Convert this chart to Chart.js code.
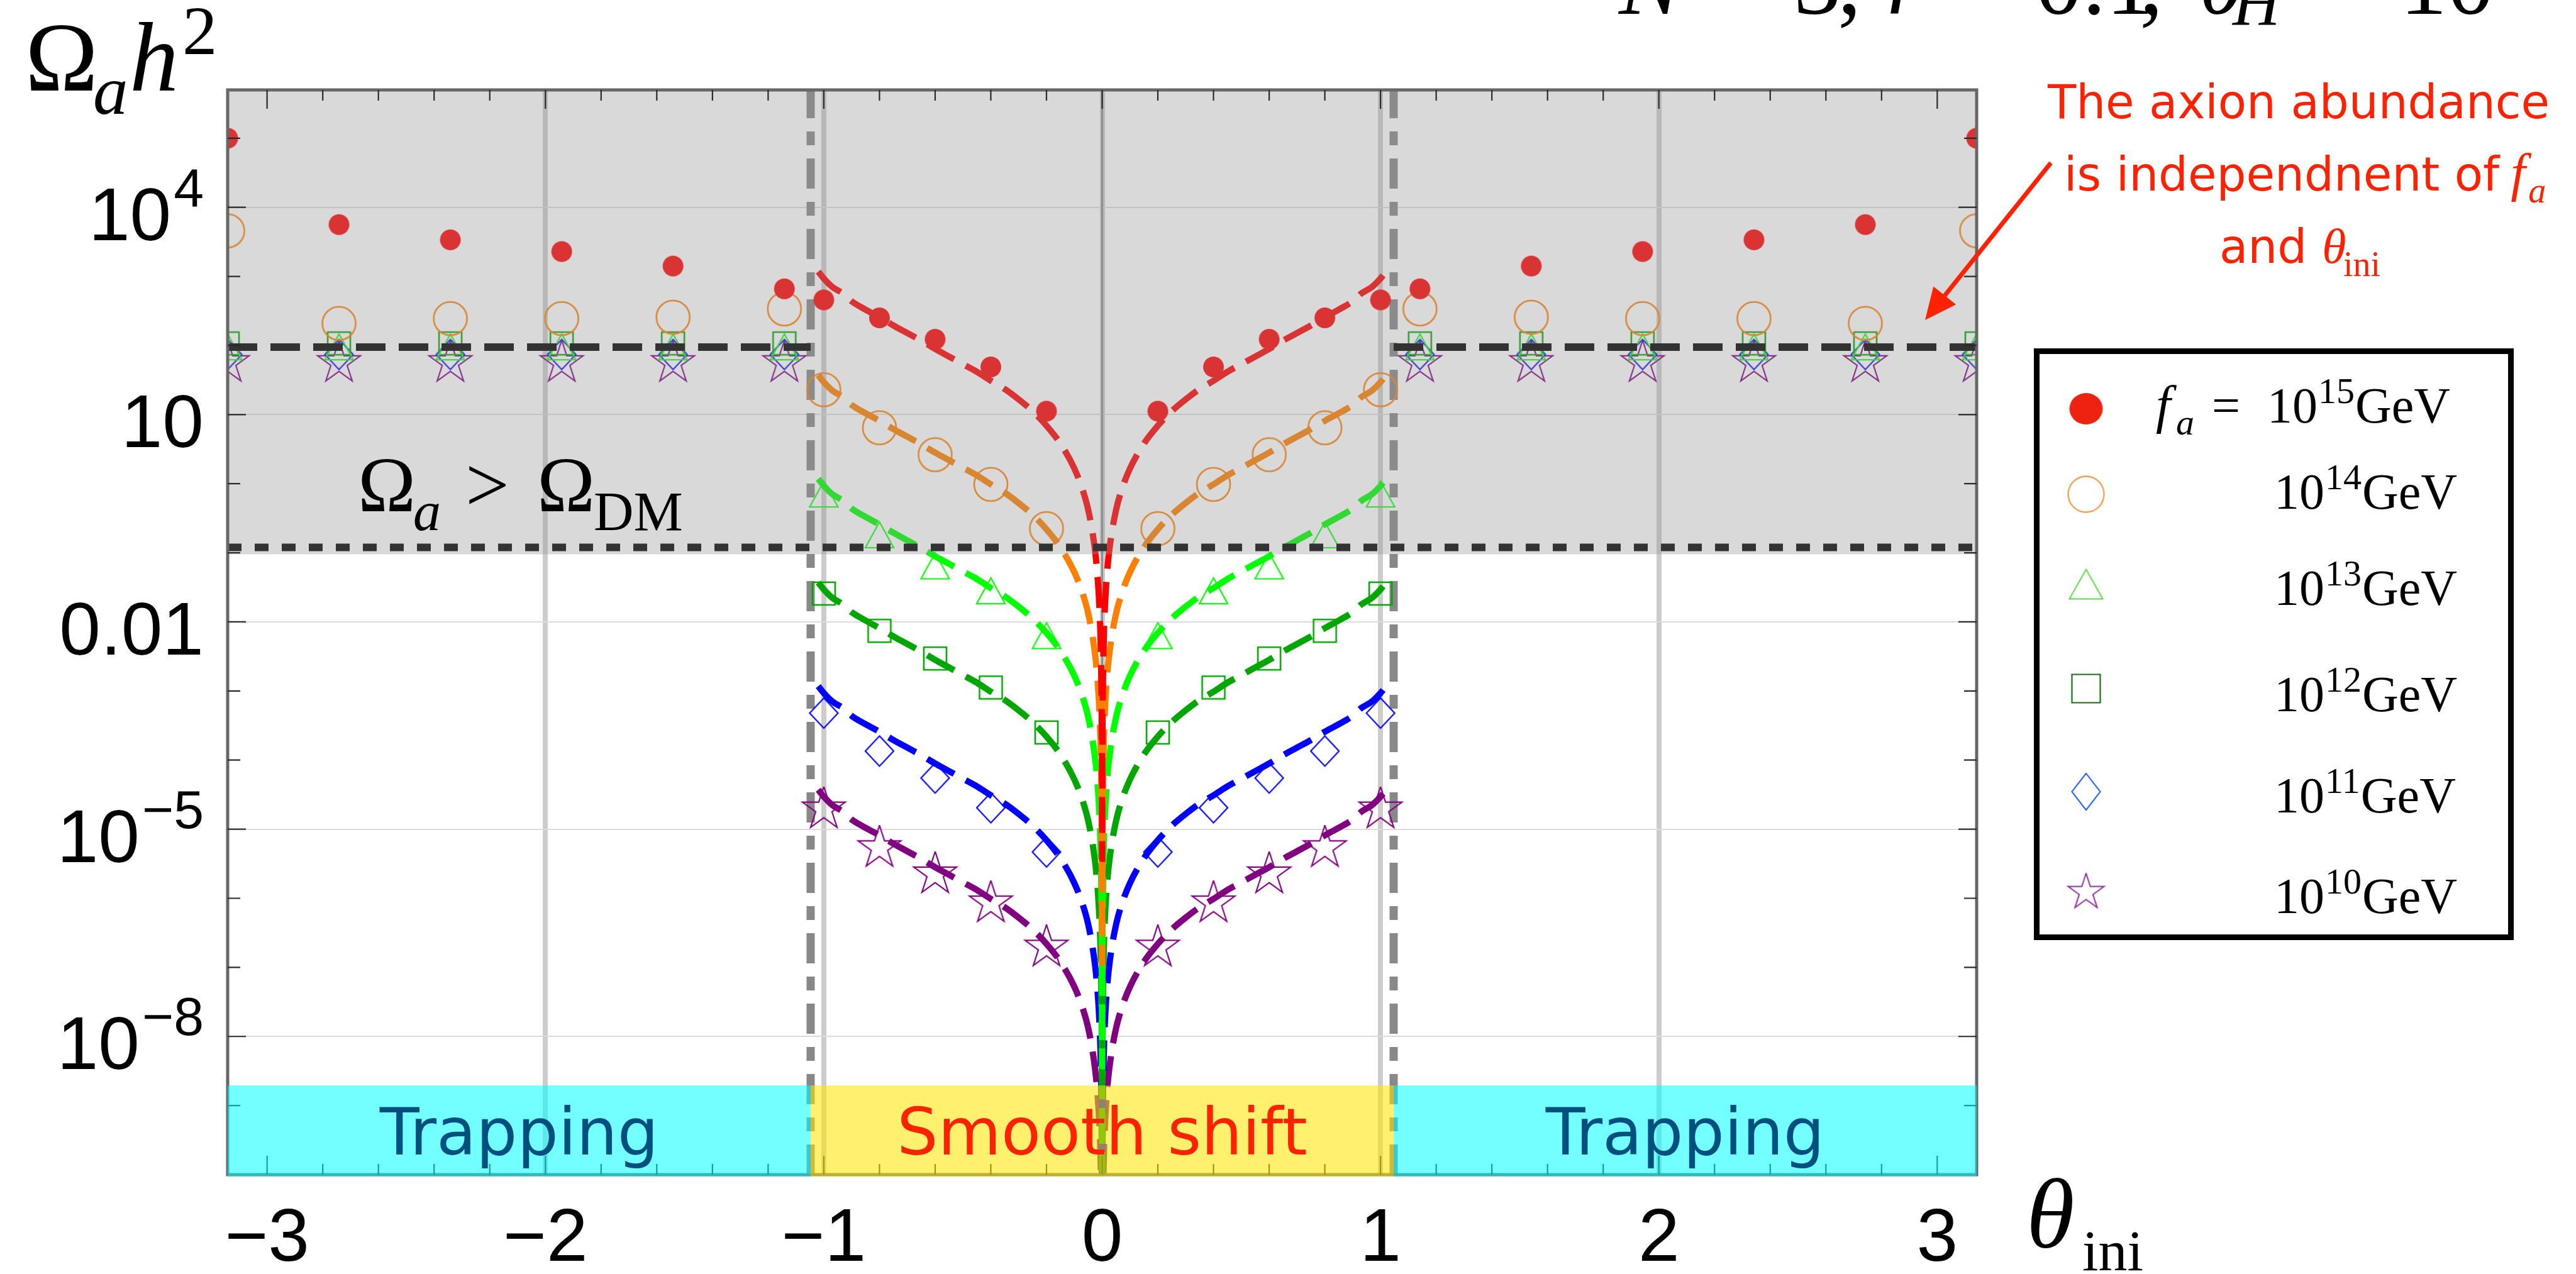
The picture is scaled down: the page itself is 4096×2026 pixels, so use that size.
<!DOCTYPE html>
<html>
<head>
<meta charset="utf-8">
<script src="https://cdn.jsdelivr.net/npm/chart.js@4.4.1/dist/chart.umd.min.js"></script>
<style>
  html, body { margin: 0; padding: 0; background: #fff; overflow: hidden; }
  canvas { display: block; }
</style>
</head>
<body>
<canvas id="c" width="4096" height="2026"></canvas>
<script>
// ---- data (y values are log10 of Omega_a h^2) ----
const markerTheta = [-3.14159, -2.7416, -2.3416, -1.9416, -1.5416, -1.1416, -1.0, -0.8, -0.6, -0.4, -0.2,
                     0.2, 0.4, 0.6, 0.8, 1.0, 1.1416, 1.5416, 1.9416, 2.3416, 2.7416, 3.14159];
const ptsF15 = [5.00, 3.75, 3.53, 3.36, 3.15, 2.82, 2.66, 2.40, 2.09, 1.69, 1.05, 1.05, 1.69, 2.09, 2.40, 2.66, 2.82, 3.15, 3.36, 3.53, 3.75, 5.00];
const ptsF14 = [3.66, 2.32, 2.39, 2.39, 2.41, 2.53, 1.36, 0.81, 0.42, -0.01, -0.65, -0.65, -0.01, 0.42, 0.81, 1.36, 2.53, 2.41, 2.39, 2.39, 2.32, 3.66];
const ptsF13 = [1.98, 1.98, 1.98, 1.98, 1.98, 1.98, -0.15, -0.74, -1.19, -1.55, -2.20, -2.20, -1.55, -1.19, -0.74, -0.15, 1.98, 1.98, 1.98, 1.98, 1.98, 1.98];
const ptsF12 = [2.03, 2.03, 2.03, 2.03, 2.03, 2.03, -1.59, -2.13, -2.53, -2.95, -3.60, -3.60, -2.95, -2.53, -2.13, -1.59, 2.03, 2.03, 2.03, 2.03, 2.03, 2.03];
const ptsF11 = [1.87, 1.87, 1.87, 1.87, 1.87, 1.87, -3.32, -3.87, -4.26, -4.69, -5.33, -5.33, -4.69, -4.26, -3.87, -3.32, 1.87, 1.87, 1.87, 1.87, 1.87, 1.87];
const ptsF10 = [1.75, 1.75, 1.75, 1.75, 1.75, 1.75, -4.71, -5.27, -5.65, -6.07, -6.71, -6.71, -6.07, -5.65, -5.27, -4.71, 1.75, 1.75, 1.75, 1.75, 1.75, 1.75];

// dashed curves, |theta| half (the figure is symmetric)
const curveTheta = [0.00015, 0.0005, 0.001, 0.002, 0.005, 0.01, 0.02, 0.03, 0.05, 0.07, 0.1, 0.15, 0.2, 0.25, 0.3, 0.35,
                    0.4, 0.45, 0.5, 0.55, 0.6, 0.65, 0.7, 0.75, 0.8, 0.85, 0.9, 0.93, 0.97, 1.0, 1.02];
const curveF15 = [-5.43, -4.38, -3.78, -3.18, -2.38, -1.78, -1.18, -0.83, -0.38, -0.09, 0.22, 0.58, 0.84, 1.05, 1.22, 1.37,
                  1.49, 1.62, 1.73, 1.84, 1.95, 2.07, 2.18, 2.29, 2.41, 2.52, 2.64, 2.75, 2.85, 2.97, 3.07];
const curveF14 = [-6.93, -5.88, -5.28, -4.68, -3.88, -3.28, -2.68, -2.33, -1.88, -1.59, -1.28, -0.92, -0.66, -0.45, -0.28, -0.13,
                  -0.01, 0.12, 0.23, 0.34, 0.45, 0.57, 0.68, 0.79, 0.91, 1.02, 1.14, 1.25, 1.35, 1.47, 1.57];
const curveF13 = [-8.43, -7.38, -6.78, -6.18, -5.38, -4.78, -4.18, -3.83, -3.38, -3.09, -2.78, -2.42, -2.16, -1.95, -1.78, -1.63,
                  -1.51, -1.38, -1.27, -1.16, -1.05, -0.93, -0.82, -0.71, -0.59, -0.48, -0.36, -0.25, -0.15, -0.03, 0.07];
const curveF12 = [-9.93, -8.88, -8.28, -7.68, -6.88, -6.28, -5.68, -5.33, -4.88, -4.59, -4.28, -3.92, -3.66, -3.45, -3.28, -3.13,
                  -3.01, -2.88, -2.77, -2.66, -2.55, -2.43, -2.32, -2.21, -2.09, -1.98, -1.86, -1.75, -1.65, -1.53, -1.43];
const curveF11 = [-11.43, -10.38, -9.78, -9.18, -8.38, -7.78, -7.18, -6.83, -6.38, -6.09, -5.78, -5.42, -5.16, -4.95, -4.78, -4.63,
                  -4.51, -4.38, -4.27, -4.16, -4.05, -3.93, -3.82, -3.71, -3.59, -3.48, -3.36, -3.25, -3.15, -3.03, -2.93];
const curveF10 = [-12.93, -11.88, -11.28, -10.68, -9.88, -9.28, -8.68, -8.33, -7.88, -7.59, -7.28, -6.92, -6.66, -6.45, -6.28, -6.13,
                  -6.01, -5.88, -5.77, -5.66, -5.55, -5.43, -5.32, -5.21, -5.09, -4.98, -4.86, -4.75, -4.65, -4.53, -4.43];

const trapLevel = 95;          // black dashed line
const dmLevel = 0.12;          // dotted line, Omega_DM h^2
const excludedFloor = 0.095;   // lower edge of the grey region
const bandTop = 1.95e-9;       // top of the regime bands
const regimeEdge = 1.0472;     // pi/3
const bandNames = ['Trapping', 'Smooth shift', 'Trapping'];

const xGridValues = [-2, -1, 0, 1, 2];
const xTickValues = [-3, -2, -1, 0, 1, 2, 3];
const xTickLabels = ['\u22123', '\u22122', '\u22121', '0', '1', '2', '3'];
const yTickValues = [1e4, 10, 0.01, 1e-5, 1e-8];
const yTickBase = ['10', '10', '0.01', '10', '10'];
const yTickExp = ['4', '', '', '\u22125', '\u22128'];
const yMin = 1e-10, yMax = 5.0e5;
const legendExp = ['15', '14', '13', '12', '11', '10'];

// ---- helpers ----
const SERIF = '"Liberation Serif", "Times New Roman", serif';
const SANS = '"Liberation Sans", Arial, sans-serif';
const DJV = '"DejaVu Sans", Verdana, sans-serif';
const pw = v => Math.pow(10, v);

function pointsData(vals) {
  return markerTheta.map((t, i) => ({x: t, y: pw(vals[i])}));
}
function curveData(vals) {
  const left = curveTheta.map((t, i) => ({x: -t, y: pw(vals[i])})).reverse();
  const right = curveTheta.map((t, i) => ({x: t, y: pw(vals[i])}));
  return left.concat(right);
}

function makeMarker(shape, w, h, color, lw) {
  const pad = Math.ceil(lw) + 2;
  const cv = document.createElement('canvas');
  cv.width = Math.ceil(w) + 2 * pad;
  cv.height = Math.ceil(h) + 2 * pad;
  const g = cv.getContext('2d');
  g.translate(cv.width / 2, cv.height / 2);
  g.strokeStyle = color;
  g.fillStyle = color;
  g.lineWidth = lw;
  g.lineJoin = 'miter';
  g.beginPath();
  if (shape === 'disk' || shape === 'circle') {
    g.ellipse(0, 0, w / 2, h / 2, 0, 0, Math.PI * 2);
  } else if (shape === 'triangle') {
    g.moveTo(0, -h / 2); g.lineTo(w / 2, h / 2); g.lineTo(-w / 2, h / 2); g.closePath();
  } else if (shape === 'square') {
    g.rect(-w / 2, -h / 2, w, h);
  } else if (shape === 'diamond') {
    g.moveTo(0, -h / 2); g.lineTo(w / 2, 0); g.lineTo(0, h / 2); g.lineTo(-w / 2, 0); g.closePath();
  } else if (shape === 'star') {
    const R = w / 1.902, r = R * 0.382;
    for (let k = 0; k < 10; k++) {
      const ang = -Math.PI / 2 + k * Math.PI / 5;
      const rr = k % 2 ? r : R;
      g.lineTo(rr * Math.cos(ang), rr * Math.sin(ang));
    }
    g.closePath();
  }
  if (shape === 'disk') g.fill(); else g.stroke();
  return cv;
}

// plot markers
const mk = [
  makeMarker('disk', 33, 33, '#ff0000', 0),
  makeMarker('circle', 53, 53, '#ff8000', 2.6),
  makeMarker('triangle', 45, 41, '#00ff00', 2.2),
  makeMarker('square', 36, 36, '#00a600', 2.6),
  makeMarker('diamond', 45, 48, '#0000ff', 2.2),
  makeMarker('star', 68, 62, '#800080', 2.2)
];
// legend markers
const lgMk = [
  makeMarker('disk', 53, 50, '#ee2211', 0),
  makeMarker('circle', 57, 57, '#f5821e', 1.8),
  makeMarker('triangle', 53, 47, '#55dd3c', 2),
  makeMarker('square', 45, 45, '#146e14', 2.2),
  makeMarker('diamond', 45, 58, '#1450ff', 2),
  makeMarker('star', 57, 55, '#8c28a0', 2)
];

const curveColors = ['#ff0000', '#ff8000', '#00ff00', '#00a600', '#0000ff', '#800080'];
const curveSets = [curveF15, curveF14, curveF13, curveF12, curveF11, curveF10];
const pointSets = [ptsF15, ptsF14, ptsF13, ptsF12, ptsF11, ptsF10];

const datasets = [];
datasets.push({
  data: [{x: -Math.PI, y: trapLevel}, {x: -regimeEdge, y: trapLevel}, {x: 0, y: null},
         {x: regimeEdge, y: trapLevel}, {x: Math.PI, y: trapLevel}],
  showLine: true, borderColor: '#000', borderWidth: 12, borderDash: [47, 21],
  pointRadius: 0, spanGaps: false, clip: 0, order: 0
});
datasets.push({
  data: [{x: -Math.PI, y: dmLevel}, {x: Math.PI, y: dmLevel}],
  showLine: true, borderColor: '#000', borderWidth: 12, borderDash: [22, 21],
  pointRadius: 0, clip: 0, order: 0
});
curveSets.forEach((c, i) => datasets.push({
  data: curveData(c), showLine: true, borderColor: curveColors[i], borderWidth: 10,
  borderDash: [49, 21], cubicInterpolationMode: 'monotone', pointRadius: 0, clip: 0, order: 1
}));
pointSets.forEach((p, i) => datasets.push({
  data: pointsData(p), showLine: false, pointStyle: mk[i], pointRadius: 20, clip: 0, order: 2
}));
[-regimeEdge, regimeEdge].forEach(t => datasets.push({
  data: [{x: t, y: yMin}, {x: t, y: yMax}], showLine: true, borderColor: '#888888',
  borderWidth: 13, borderDash: [48, 21, 22, 21], pointRadius: 0, clip: 0, order: 3
}));

function txt(ctx, s, x, y, font, color, align) {
  ctx.font = font;
  ctx.fillStyle = color || '#000';
  ctx.textAlign = align || 'left';
  ctx.textBaseline = 'alphabetic';
  ctx.fillText(s, x, y);
  return ctx.measureText(s).width;
}

const deco = {
  id: 'deco',
  beforeDatasetsDraw(chart) {
    const {ctx, chartArea: a, scales: {x}} = chart;
    const px = x.getPixelForValue(0);
    ctx.save();
    ctx.strokeStyle = '#8e8e8e';
    ctx.lineWidth = 3;
    ctx.beginPath(); ctx.moveTo(px, a.top); ctx.lineTo(px, a.bottom); ctx.stroke();
    ctx.restore();
  },
  afterDatasetsDraw(chart) {
    const {ctx, chartArea: a, scales: {x, y}} = chart;
    ctx.save();
    // grey excluded region (drawn over the data, translucent)
    const yg = y.getPixelForValue(excludedFloor);
    ctx.fillStyle = 'rgba(146,146,146,0.35)';
    ctx.fillRect(a.left, a.top, a.right - a.left, yg - a.top);

    // frame
    ctx.strokeStyle = '#676767';
    ctx.lineWidth = 5;
    ctx.strokeRect(a.left, a.top, a.right - a.left, a.bottom - a.top);

    // inward ticks
    ctx.strokeStyle = '#2a2a2a';
    ctx.lineWidth = 2.2;
    ctx.beginPath();
    for (let k = -15; k <= 15; k++) {
      const px = x.getPixelForValue(k / 5);
      const len = k % 5 === 0 ? 30 : 17;
      ctx.moveTo(px, a.top); ctx.lineTo(px, a.top + len);
      ctx.moveTo(px, a.bottom); ctx.lineTo(px, a.bottom - len);
    }
    const majors = yTickValues.map(v => Math.round(Math.log10(v)));
    for (let e = -9; e <= 5; e++) {
      const py = y.getPixelForValue(pw(e));
      const len = majors.includes(e) ? 29 : 20;
      ctx.moveTo(a.left, py); ctx.lineTo(a.left + len, py);
      ctx.moveTo(a.right, py); ctx.lineTo(a.right - len, py);
    }
    ctx.stroke();

    // regime bands
    const yt = y.getPixelForValue(bandTop);
    const edges = [-Math.PI, -regimeEdge, regimeEdge, Math.PI].map(v => x.getPixelForValue(v));
    const fills = ['rgba(0,255,255,0.55)', 'rgba(255,228,0,0.57)', 'rgba(0,255,255,0.55)'];
    const inks = ['#00507f', '#ff2200', '#00507f'];
    for (let i = 0; i < 3; i++) {
      ctx.fillStyle = fills[i];
      ctx.fillRect(edges[i], yt, edges[i + 1] - edges[i], a.bottom + 3 - yt);
    }
    for (let i = 0; i < 3; i++) {
      txt(ctx, bandNames[i], (edges[i] + edges[i + 1]) / 2, yt + 110, `103px ${DJV}`, inks[i], 'center');
    }
    ctx.restore();
  },
  afterDraw(chart) {
    const {ctx, chartArea: a, scales: {x, y}} = chart;
    ctx.save();

    // y tick labels
    yTickValues.forEach((v, i) => {
      const py = y.getPixelForValue(v);
      ctx.font = `118px ${SANS}`;
      const wb = ctx.measureText(yTickBase[i]).width;
      ctx.font = `86px ${SANS}`;
      const we = yTickExp[i] ? ctx.measureText(yTickExp[i]).width + 4 : 0;
      const x0 = a.left - 38 - wb - we;
      txt(ctx, yTickBase[i], x0, py + 52, `118px ${SANS}`);
      if (yTickExp[i]) txt(ctx, yTickExp[i], x0 + wb + 4, py - 2, `86px ${SANS}`);
    });
    // x tick labels
    xTickValues.forEach((v, i) => {
      txt(ctx, xTickLabels[i], x.getPixelForValue(v), 2005, `118px ${SANS}`, '#000', 'center');
    });

    // axis titles
    txt(ctx, '\u03A9', 40, 144, `156px ${SERIF}`);
    txt(ctx, 'a', 148, 181, `italic 111px ${SERIF}`);
    txt(ctx, 'h', 206, 144, `italic 156px ${SERIF}`);
    txt(ctx, '2', 290, 86, `111px ${SERIF}`);
    txt(ctx, '\u03B8', 3222, 1983, `italic 156px ${SERIF}`);
    txt(ctx, 'ini', 3311, 2020, `92px ${SERIF}`);

    // plot label (mostly above the frame)
    const tf = `150px ${SERIF}`, tfi = `italic 150px ${SERIF}`;
    txt(ctx, 'N', 2574, 22, tfi);
    txt(ctx, '=', 2726, 22, tf);
    txt(ctx, '3', 2852, 22, tf);
    txt(ctx, ',', 2922, 22, tf);
    txt(ctx, 'r', 3000, 22, tfi);
    txt(ctx, '=', 3110, 22, tf);
    txt(ctx, '0.1', 3236, 22, tf);
    txt(ctx, ',', 3402, 22, tf);
    txt(ctx, '\u03B8', 3496, 22, tfi);
    txt(ctx, 'H', 3550, 39, `italic 105px ${SERIF}`);
    txt(ctx, '=', 3679, 22, tf);
    txt(ctx, '10', 3816, 22, tf);

    // Omega_a > Omega_DM
    txt(ctx, '\u03A9', 569, 813, `124px ${SERIF}`);
    txt(ctx, 'a', 657, 843, `italic 88px ${SERIF}`);
    txt(ctx, '>', 740, 813, `124px ${SERIF}`);
    txt(ctx, '\u03A9', 854, 813, `124px ${SERIF}`);
    txt(ctx, 'DM', 944, 843, `88px ${SERIF}`);

    // legend
    ctx.fillStyle = '#fff';
    ctx.fillRect(3238, 558, 755, 933);
    ctx.strokeStyle = '#000';
    ctx.lineWidth = 9;
    ctx.strokeRect(3238.5, 558.5, 754, 932);
    const lgY = [650, 786, 929, 1095, 1259, 1419];
    const lgBase = [672, 809, 962, 1131, 1292, 1452];
    lgMk.forEach((m, i) => {
      ctx.drawImage(m, 3317 - m.width / 2, lgY[i] - m.height / 2);
      let x0 = 3616;
      if (i === 0) {
        txt(ctx, 'f', 3428, lgBase[i], `italic 84px ${SERIF}`);
        txt(ctx, 'a', 3460, lgBase[i] + 19, `italic 58px ${SERIF}`);
        txt(ctx, '=', 3517, lgBase[i], `80px ${SERIF}`);
        x0 = 3605;
      }
      x0 += txt(ctx, '10', x0, lgBase[i], `80px ${SERIF}`) + 1;
      x0 += txt(ctx, legendExp[i], x0, lgBase[i] - 31, `58px ${SERIF}`) + 1;
      txt(ctx, 'GeV', x0, lgBase[i], `80px ${SERIF}`);
    });

    // annotation
    const red = '#ff2200';
    txt(ctx, 'The axion abundance', 3655, 188, `74px ${DJV}`, red, 'center');
    const w2 = txt(ctx, 'is independnent of', 3282, 303, `74px ${DJV}`, red);
    txt(ctx, 'f', 3282 + w2 + 18, 303, `italic 84px ${SERIF}`, red);
    txt(ctx, 'a', 3282 + w2 + 46, 322, `italic 56px ${SERIF}`, red);
    const w3 = txt(ctx, 'and', 3529, 418, `74px ${DJV}`, red);
    txt(ctx, '\u03B8', 3529 + w3 + 24, 418, `italic 78px ${SERIF}`, red);
    txt(ctx, 'ini', 3726, 439, `56px ${SERIF}`, red);

    // arrow
    const ax0 = 3261, ay0 = 259, ax1 = 3061, ay1 = 509;
    const ang = Math.atan2(ay1 - ay0, ax1 - ax0);
    const hl = 50, hw = 23;
    const bx = ax1 - hl * Math.cos(ang), by = ay1 - hl * Math.sin(ang);
    ctx.strokeStyle = red;
    ctx.fillStyle = red;
    ctx.lineWidth = 7;
    ctx.beginPath(); ctx.moveTo(ax0, ay0); ctx.lineTo(bx, by); ctx.stroke();
    ctx.beginPath();
    ctx.moveTo(ax1, ay1);
    ctx.lineTo(bx + hw * Math.sin(ang), by - hw * Math.cos(ang));
    ctx.lineTo(bx - hw * Math.sin(ang), by + hw * Math.cos(ang));
    ctx.closePath(); ctx.fill();

    ctx.restore();
  }
};

new Chart(document.getElementById('c'), {
  type: 'scatter',
  data: {datasets: datasets},
  plugins: [deco],
  options: {
    responsive: false,
    devicePixelRatio: 1,
    animation: false,
    events: [],
    layout: {padding: {left: 362, right: 953, top: 143, bottom: 158}},
    plugins: {legend: {display: false}, tooltip: {enabled: false}},
    scales: {
      x: {
        type: 'linear', min: -Math.PI, max: Math.PI, bounds: 'data',
        afterBuildTicks: ax => { ax.ticks = xGridValues.map(v => ({value: v})); },
        afterFit: ax => { ax.height = 0; },
        ticks: {display: false},
        border: {display: false},
        grid: {color: '#cccccc', lineWidth: 8, drawTicks: false}
      },
      y: {
        type: 'logarithmic', min: yMin, max: yMax, bounds: 'data',
        afterBuildTicks: ax => { ax.ticks = yTickValues.map(v => ({value: v})); },
        afterFit: ax => { ax.width = 0; },
        ticks: {display: false},
        border: {display: false},
        grid: {color: '#dcdcdc', lineWidth: 2, drawTicks: false}
      }
    }
  }
});
</script>
</body>
</html>
